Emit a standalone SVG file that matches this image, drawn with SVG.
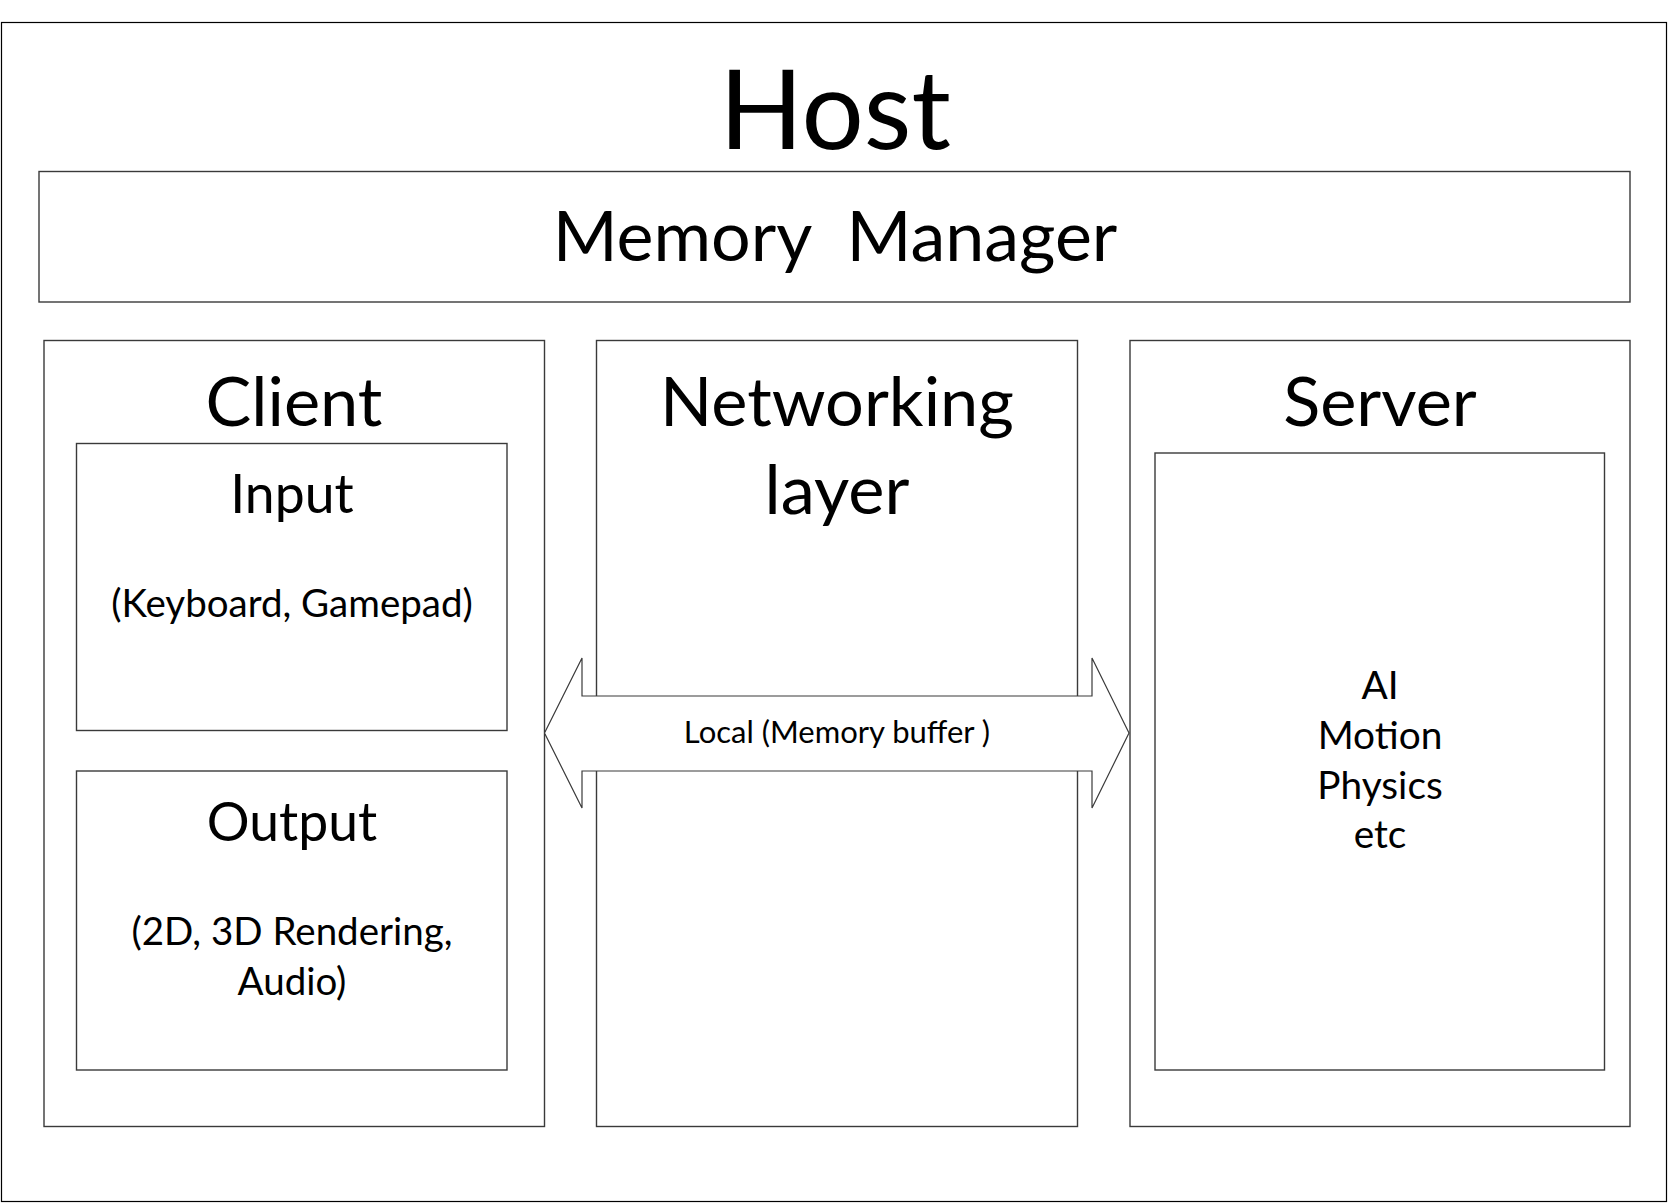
<svg xmlns="http://www.w3.org/2000/svg" width="1669" height="1203" viewBox="0 0 1669 1203">
<style>
.box{fill:#fff;stroke:#3a3a3a;stroke-width:1.4}
.outer{fill:#fff;stroke:#000;stroke-width:1.2}
text{font-family:Lato,"Open Sans","Liberation Sans",sans-serif;fill:#000;text-anchor:middle}
.t1{font-size:110px}
.t2{font-size:70px}
.t3{font-size:68.5px}
.t4{font-size:53.5px}
.t5{font-size:38.5px}
.t6{font-size:38.8px}
.t7{font-size:31px}
</style>
<g id="host">
<rect class="outer" x="1.5" y="22.5" width="1665" height="1179"/>
<text class="t1" x="835" y="149">Host</text>
</g>
<g id="memory-manager">
<rect class="box" x="39" y="171.5" width="1591" height="130.5"/>
<text class="t2" x="835" y="261" xml:space="preserve">Memory  Manager</text>
</g>
<g id="client">
<rect class="box" x="44" y="340.5" width="500.5" height="786"/>
<text class="t3" x="294" y="426">Client</text>
</g>
<g id="input">
<rect class="box" x="76.5" y="443.5" width="430.5" height="287"/>
<text class="t4" x="292" y="513">Input</text>
<text class="t5" x="292" y="617">(Keyboard, Gamepad)</text>
</g>
<g id="output">
<rect class="box" x="76.5" y="771" width="430.5" height="299"/>
<text class="t4" x="292" y="841">Output</text>
<text class="t5" x="292" y="945">(2D, 3D Rendering,</text>
<text class="t5" x="292" y="995">Audio)</text>
</g>
<g id="networking">
<rect class="box" x="596.5" y="340.5" width="481" height="786"/>
<text class="t3" x="837" y="426">Networking</text>
<text class="t3" x="837" y="514">layer</text>
</g>
<g id="server">
<rect class="box" x="1130" y="340.5" width="500" height="786"/>
<text class="t3" x="1380" y="426">Server</text>
</g>
<g id="server-modules">
<rect class="box" x="1155" y="453" width="449.5" height="617"/>
<text class="t6" x="1380" y="699">AI</text>
<text class="t6" x="1380" y="749">Motion</text>
<text class="t6" x="1380" y="799">Physics</text>
<text class="t6" x="1380" y="848">etc</text>
</g>
<g id="connectors">
<path d="M544.5,733 L582,658 L582,696 L1092,696 L1092,658 L1129,733 L1092,808 L1092,771 L582,771 L582,808 Z" fill="#fff" stroke="#3a3a3a" stroke-width="1.2" stroke-linejoin="miter"/>
<text class="t7" x="837" y="743" xml:space="preserve">Local (Memory buffer )</text>
</g>
</svg>
